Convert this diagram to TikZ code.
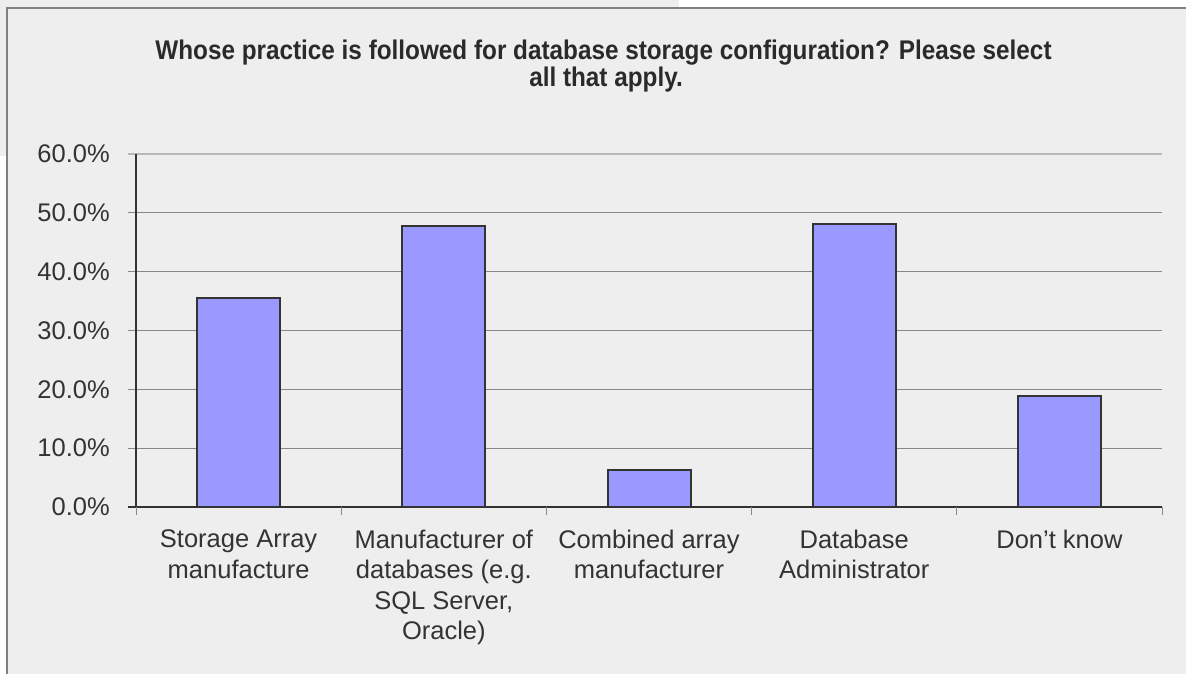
\documentclass[tikz,border=0pt]{standalone}
\usepackage{fontspec}
\setmainfont{Liberation Sans}
\definecolor{bgc}{HTML}{EEEEEE}
\definecolor{framec}{HTML}{808080}
\definecolor{txtc}{HTML}{333333}
\definecolor{titc}{HTML}{2A2A2A}
\definecolor{barc}{HTML}{9999FF}
\definecolor{gridc}{HTML}{888888}
\begin{document}
\begin{tikzpicture}[x=1pt,y=-1pt,
  ylab/.style={anchor=east,inner sep=0pt,text=txtc,font=\fontsize{25.5}{30.5}\selectfont},
  catlab/.style={anchor=north,inner sep=0pt,align=center,text=txtc,font=\fontsize{25.5}{30.5}\selectfont},
  titlelab/.style={anchor=base,inner sep=0pt,text=titc,font=\bfseries\fontsize{27}{27}\selectfont},
  gridline/.style={draw=gridc,line width=1pt},
  axisline/.style={draw=txtc,line width=1.3pt},
  barbox/.style={fill=barc,draw=txtc,line width=2pt}]
\useasboundingbox (0,0) rectangle (1186,674);
\clip (0,0) rectangle (1186,674);
\fill[white] (0,0) rectangle (1186,674);
\fill[bgc] (0,0) rectangle (679,156);
\path[fill=bgc,draw=framec,line width=2pt] (7,8.5) rectangle (1220,700);
% title
\node[titlelab] (t1) at (603.5,60) {\scalebox{0.9}[1]{Whose practice is followed for database storage configuration? Please select}};
\node[titlelab] (t2) at (606,87) {\scalebox{0.9}[1]{all that apply.}};
% grid
\def\yz{507}
\def\ys{5.8833}
\draw[draw=gridc!60,line width=2pt] (128,154) -- (1162,154);
\foreach \v in {10,20,30,40,50} {
  \draw[gridline] (128,{\yz-\v*\ys}) -- (1162,{\yz-\v*\ys});
}
\foreach \v/\n in {0/y0,10/y1,20/y2,30/y3,40/y4,50/y5,60/y6} {
  \node[ylab] (\n) at (110,{\yz-\v*\ys}) {\v.0\%};
}
% bars
\foreach \i/\v in {1/35.5,2/47.7,3/6.3,4/48.1,5/18.8} {
  \pgfmathsetmacro{\cx}{136+205.2*(\i-0.5)}
  \draw[barbox] ({\cx-41.5},\yz) rectangle ({\cx+41.5},{\yz-\v*\ys});
}
% axes
\draw[axisline] (136,154) -- (136,\yz);
\draw[axisline] (128,\yz) -- (1162,\yz);
\foreach \i in {0,...,5} {
  \draw[draw=gridc,line width=1pt] ({136+205.2*\i},\yz) -- ({136+205.2*\i},515);
}
% category labels
\node[catlab] (c1) at ({136+205.2*0.5},529.5) {Storage Array\\manufacture};
\node[catlab] (c2) at ({136+205.2*1.5},529.5) {Manufacturer of\\databases (e.g.\\SQL Server,\\Oracle)};
\node[catlab] (c3) at ({136+205.2*2.5},529.5) {Combined array\\manufacturer};
\node[catlab] (c4) at ({136+205.2*3.5},529.5) {Database\\Administrator};
\node[catlab] (c5) at ({136+205.2*4.5},529.5) {Don’t know};
\end{tikzpicture}
\end{document}
